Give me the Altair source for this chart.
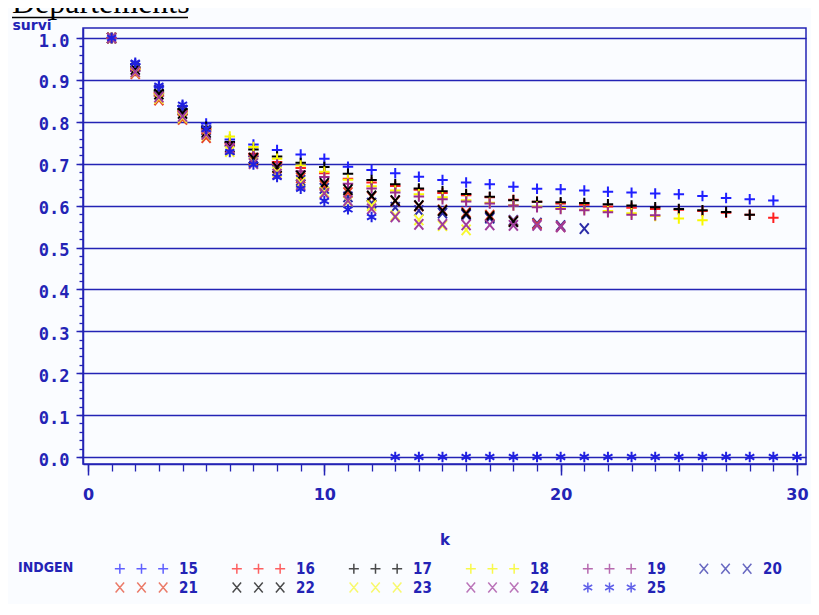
import altair as alt
import pandas as pd

# ---- data ----
series_names = ["15", "16", "17", "18", "19", "20", "21", "22", "23", "24", "25"]

s15 = [1.000, 0.938, 0.884, 0.838, 0.796, 0.758, 0.746, 0.733, 0.722, 0.712, 0.693, 0.685, 0.677, 0.669, 0.661,
       0.655, 0.651, 0.645, 0.640, 0.639, 0.636, 0.633, 0.631, 0.629, 0.627, 0.623, 0.618, 0.615, 0.612]
s16 = [1.000, 0.927, 0.869, 0.825, 0.783, 0.748, 0.724, 0.704, 0.690, 0.677, 0.664, 0.655, 0.647, 0.638, 0.630,
       0.625, 0.620, 0.614, 0.609, 0.605, 0.602, 0.598, 0.595, 0.592, 0.590, 0.587, 0.583, 0.578, 0.571]
s17 = [1.000, 0.930, 0.874, 0.830, 0.788, 0.752, 0.734, 0.717, 0.702, 0.692, 0.676, 0.661, 0.651, 0.641, 0.634,
       0.628, 0.621, 0.613, 0.609, 0.608, 0.606, 0.603, 0.600, 0.596, 0.592, 0.589, 0.585, 0.578]
s18 = [1.000, 0.924, 0.867, 0.822, 0.781, 0.765, 0.740, 0.712, 0.696, 0.681, 0.662, 0.646, 0.636, 0.627, 0.620,
       0.613, 0.607, 0.601, 0.598, 0.594, 0.591, 0.587, 0.582, 0.575, 0.569, 0.565]
s19 = [1.000, 0.921, 0.862, 0.818, 0.777, 0.742, 0.718, 0.698, 0.682, 0.668, 0.652, 0.641, 0.631, 0.622, 0.615,
       0.610, 0.605, 0.600, 0.596, 0.592, 0.589, 0.584, 0.578, 0.577]
s20 = [1.000, 0.934, 0.876, 0.828, 0.780, 0.733, 0.706, 0.684, 0.660, 0.641, 0.621, 0.606, 0.596, 0.588, 0.582,
       0.578, 0.570, 0.565, 0.558, 0.552, 0.545]
s21 = [1.000, 0.915, 0.852, 0.806, 0.762, 0.736, 0.710, 0.690, 0.666, 0.648, 0.631, 0.621, 0.611, 0.599, 0.590,
       0.584, 0.577, 0.563, 0.556, 0.550]
s22 = [1.000, 0.925, 0.866, 0.820, 0.775, 0.740, 0.713, 0.692, 0.671, 0.653, 0.638, 0.623, 0.612, 0.600, 0.588,
       0.581, 0.574, 0.562]
s23 = [1.000, 0.918, 0.856, 0.810, 0.768, 0.729, 0.702, 0.680, 0.655, 0.632, 0.610, 0.600, 0.576, 0.566, 0.552,
       0.542]
s24 = [1.000, 0.919, 0.859, 0.813, 0.770, 0.737, 0.700, 0.675, 0.650, 0.629, 0.612, 0.592, 0.573, 0.555, 0.555,
       0.554, 0.554, 0.553, 0.553, 0.549]
s25 = [1.000, 0.941, 0.886, 0.841, 0.783, 0.728, 0.698, 0.668, 0.640, 0.611, 0.591, 0.573, 0.0, 0.0, 0.0,
       0.0, 0.0, 0.0, 0.0, 0.0, 0.0, 0.0, 0.0, 0.0, 0.0, 0.0, 0.0, 0.0, 0.0, 0.0]

all_series = [s15, s16, s17, s18, s19, s20, s21, s22, s23, s24, s25]

chart_title = "Departements"
x_ticks = [0, 10, 20, 30]
x_minor = list(range(0, 31))
y_ticks = [0.0, 0.1, 0.2, 0.3, 0.4, 0.5, 0.6, 0.7, 0.8, 0.9, 1.0]
y_minor = [i / 50 for i in range(0, 51)]

rows = []
for name, vals in zip(series_names, all_series):
    for i, v in enumerate(vals):
        rows.append({"series": name, "k": i + 1, "survi": v})
df = pd.DataFrame(rows)

# ---- styles ----
AX = "#2323b5"
colors = ["#1f1fff", "#ff1f1f", "#000000", "#f8f800", "#9b2d8f",
          "#2b2ba8", "#e5452a", "#000000", "#f8f830", "#a03c9c", "#2020e0"]

PLUS = "M-1,0L1,0M0,-1L0,1"
CROSS = "M-0.85,-1L0.85,1M-0.85,1L0.85,-1"
STAR = "M0,-1L0,1M-0.87,-0.5L0.87,0.5M-0.87,0.5L0.87,-0.5"


def triple(kind):
    out = ""
    for c in (-4.33, 0, 4.33):
        if kind == "plus":
            out += f"M{c-1:.2f},0L{c+1:.2f},0M{c:.2f},-1L{c:.2f},1"
        elif kind == "cross":
            out += f"M{c-0.85:.2f},-1L{c+0.85:.2f},1M{c-0.85:.2f},1L{c+0.85:.2f},-1"
        else:
            out += (f"M{c:.2f},-1L{c:.2f},1M{c-0.87:.2f},-0.5L{c+0.87:.2f},0.5"
                    f"M{c-0.87:.2f},0.5L{c+0.87:.2f},-0.5")
    return out


single_shapes = [PLUS] * 5 + [CROSS] * 5 + [STAR]
legend_shapes = [triple("plus")] * 5 + [triple("cross")] * 5 + [triple("star")]

xscale = alt.Scale(domain=[-0.2116, 30.381], nice=False, zero=False)
yscale = alt.Scale(domain=[-0.0167, 1.0239], nice=False, zero=False)

LBL_FONT = "DejaVu Sans"
MONO = "DejaVu Sans Mono"
COND = "DejaVu Sans Condensed, DejaVu Sans"

x_major_axis = alt.Axis(values=x_ticks, title="k", grid=False, tickSize=11, tickWidth=1.5, tickColor=AX,
                        domainColor=AX, domainWidth=1.5, labelColor=AX, labelFont=LBL_FONT, labelFontSize=16,
                        labelFontWeight="bold", labelPadding=11, labelFlush=False, titleColor=AX,
                        titleFont=LBL_FONT, titleFontSize=15, titleFontWeight="bold", titlePadding=30)
y_major_axis = alt.Axis(values=y_ticks, format=".1f", grid=True, gridColor=AX, gridWidth=1.5, tickSize=7,
                        tickWidth=1.5, tickColor=AX, domainColor=AX, domainWidth=1.5, labelColor=AX,
                        labelFont=MONO, labelFontSize=17, labelFontWeight="bold", labelPadding=7,
                        labelOffset=3,
                        title="survi", titleAngle=0, titleAlign="left", titleBaseline="alphabetic",
                        titleX=-71, titleY=1, titleColor=AX, titleFont=LBL_FONT, titleFontSize=14,
                        titleFontWeight="bold")
x_minor_axis = alt.Axis(values=x_minor, orient="bottom", labels=False, grid=False, domain=False, tickSize=7,
                        tickWidth=1.3, tickColor=AX, title=None)
y_minor_axis = alt.Axis(values=y_minor, orient="left", labels=False, grid=False, domain=False, tickSize=4,
                        tickWidth=1.3, tickColor=AX, title=None)

main = alt.Chart(df).mark_point(filled=False, size=110, strokeWidth=2, opacity=1).encode(
    x=alt.X("k:Q", scale=xscale, axis=x_major_axis),
    y=alt.Y("survi:Q", scale=yscale, axis=y_major_axis),
    color=alt.Color("series:N", scale=alt.Scale(domain=series_names, range=colors), legend=None),
    shape=alt.Shape("series:N", scale=alt.Scale(domain=series_names, range=single_shapes), legend=None),
)

minor = alt.Chart(df).mark_point(opacity=0).encode(
    x=alt.X("k:Q", scale=xscale, axis=x_minor_axis),
    y=alt.Y("survi:Q", scale=yscale, axis=y_minor_axis),
)

leg_props = dict(
    title="INDGEN", orient="none", legendX=-65, legendY=533, direction="horizontal", columns=6,
    columnPadding=30, rowPadding=2, symbolSize=100, symbolStrokeWidth=1.5, labelOffset=30,
    labelFont=COND, labelFontSize=15, labelFontWeight="bold", labelColor=AX,
    titleOrient="left", titleFont=COND, titleFontSize=14, titleFontWeight="bold", titleColor=AX,
    titlePadding=60, titleBaseline="top", titleAnchor="start", padding=0,
)

leg = alt.Chart(df).transform_filter("datum.k < 0").mark_point(filled=False, strokeWidth=1.5).encode(
    color=alt.Color("series:N", scale=alt.Scale(domain=series_names, range=colors),
                    legend=alt.Legend(**leg_props)),
    shape=alt.Shape("series:N", scale=alt.Scale(domain=series_names, range=legend_shapes),
                    legend=alt.Legend(**leg_props)),
)

one = pd.DataFrame({"t": [chart_title]})
title_txt = alt.Chart(one).mark_text(font="Liberation Serif", fontSize=32, align="left",
                                     baseline="alphabetic", color="black").encode(
    text="t:N", x=alt.value(-71), y=alt.value(-15)
)
underline = alt.Chart(one).mark_rule(color="black", strokeWidth=1.5).encode(
    x=alt.value(-71), x2=alt.value(105), y=alt.value(-10.5)
)

chart = alt.layer(main, minor, leg, title_txt, underline).resolve_scale(
    color="independent", shape="independent"
).resolve_axis(x="independent", y="independent").properties(
    width=723, height=436,
    autosize=alt.AutoSizeParams(type="none"),
    padding={"left": 75, "top": 20, "right": 5, "bottom": 140},
    background="#fafcff",
).configure_view(stroke=AX, strokeWidth=1.5)

chart.save("out.html", embed_options={"renderer": "svg", "actions": False})
